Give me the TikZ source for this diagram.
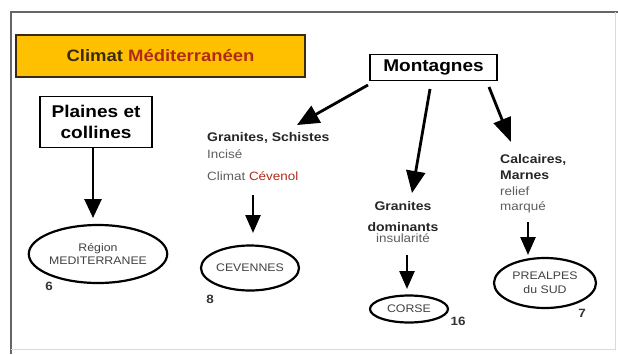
\documentclass[tikz,border=0pt]{standalone}
\usepackage{fontspec}
\setmainfont[FakeStretch=1.12]{Liberation Sans}
\usetikzlibrary{arrows.meta,shapes.geometric}
\definecolor{orangebox}{HTML}{FFC000}
\definecolor{darkred}{HTML}{B02A18}
\definecolor{titledark}{HTML}{3A2A10}
\definecolor{txtgray}{HTML}{404040}
\begin{document}
\begin{tikzpicture}[x=1pt,y=-1pt,
  box/.style={draw=black,line width=1.5pt,fill=white,inner sep=0pt,align=center,
    font=\bfseries\fontsize{17}{19}\selectfont},
  oval/.style={ellipse,draw=black,line width=2.2pt,inner sep=0pt,align=center,
    text=txtgray,font=\fontsize{11}{13}\selectfont},
  lbl/.style={inner sep=0pt,text=black!85,font=\bfseries\fontsize{12.5}{14}\selectfont},
  sub/.style={inner sep=0pt,text=txtgray!85,font=\fontsize{12}{14}\selectfont},
  num/.style={inner sep=0pt,text=black!80,font=\bfseries\fontsize{12}{14}\selectfont},
  bigarr/.style={line width=2.8pt,-{Triangle[width=19pt,length=22pt]}},
  smallarr/.style={line width=2.5pt,-{Triangle[width=15pt,length=18pt]}}]
\useasboundingbox (0,0) rectangle (618,354);
% frame
\draw[line width=2pt,black!60] (11,354) -- (11,12) -- (618,12);
\draw[line width=1pt,black!15] (11,349) -- (615,349) -- (615,12);
% title
\node[draw=titledark,line width=1.5pt,fill=orangebox,minimum width=289pt,minimum height=42pt,inner sep=0pt,
  font=\bfseries\fontsize{16.5}{18}\selectfont] (title) at (160.5,56)
  {\textcolor{titledark}{Climat} \textcolor{darkred}{Méditerranéen}};
% boxes
\node[box,minimum width=127pt,minimum height=26pt] (mont) at (433.5,67.5) {Montagnes};
\node[box,minimum width=112pt,minimum height=51pt,font=\bfseries\fontsize{17}{21}\selectfont] (plaines) at (96,122) {Plaines et\\collines};
% labels
\node[lbl,anchor=west] (t1) at (207,138) {Granites, Schistes};
\node[sub,anchor=west] (t1b) at (207,154) {Incisé};
\node[sub,anchor=west] (t1c) at (207,176) {Climat \textcolor{darkred}{Cévenol}};
\node[lbl] (t2) at (403,206) {Granites};
\node[lbl] (t2b) at (403,227) {dominants};
\node[sub] (t2c) at (403,238) {insularité};
\node[lbl,anchor=west] (t3) at (500,160) {Calcaires,};
\node[lbl,anchor=west] (t3b) at (500,175) {Marnes};
\node[sub,anchor=west] (t3c) at (500,191) {relief};
\node[sub,anchor=west] (t3d) at (500,207) {marqué};
% ovals
\node[oval,minimum width=129pt,minimum height=58pt] (medit) at (98,254) {Région\\MEDITERRANEE};
\node[oval,minimum width=98pt,minimum height=45pt] (cev) at (250,268) {CEVENNES};
\node[oval,minimum width=78pt,minimum height=27pt] (corse) at (409,309) {CORSE};
\node[oval,minimum width=102pt,minimum height=50pt,font=\fontsize{11}{14}\selectfont] (prealp) at (545,283) {PREALPES\\du SUD};
% numbers
\node[num] (n6) at (49,286) {6};
\node[num] (n8) at (210,299) {8};
\node[num] (n16) at (458,321) {16};
\node[num] (n7) at (582,313) {7};
% connector end points
\coordinate (m1) at (368,85);
\coordinate (m1e) at (297,125);
\coordinate (m2) at (430,89);
\coordinate (m2e) at (412,193);
\coordinate (m3) at (489,87);
\coordinate (m3e) at (511,142);
\coordinate (p1) at (93,148);
\coordinate (p1e) at (93,218);
\coordinate (c1) at (253,195);
\coordinate (c1e) at (253,233);
\coordinate (c2) at (407,255);
\coordinate (c2e) at (407,289);
\coordinate (c3) at (528,222);
\coordinate (c3e) at (528,255);
% connectors
\draw[bigarr] (m1) -- (m1e);
\draw[bigarr] (m2) -- (m2e);
\draw[bigarr,-{Triangle[width=18pt,length=24pt]}] (m3) -- (m3e);
\draw[bigarr,-{Triangle[width=17pt,length=19pt]}] (p1) -- (p1e);
\draw[smallarr] (c1) -- (c1e);
\draw[smallarr] (c2) -- (c2e);
\draw[smallarr] (c3) -- (c3e);
\end{tikzpicture}
\end{document}
